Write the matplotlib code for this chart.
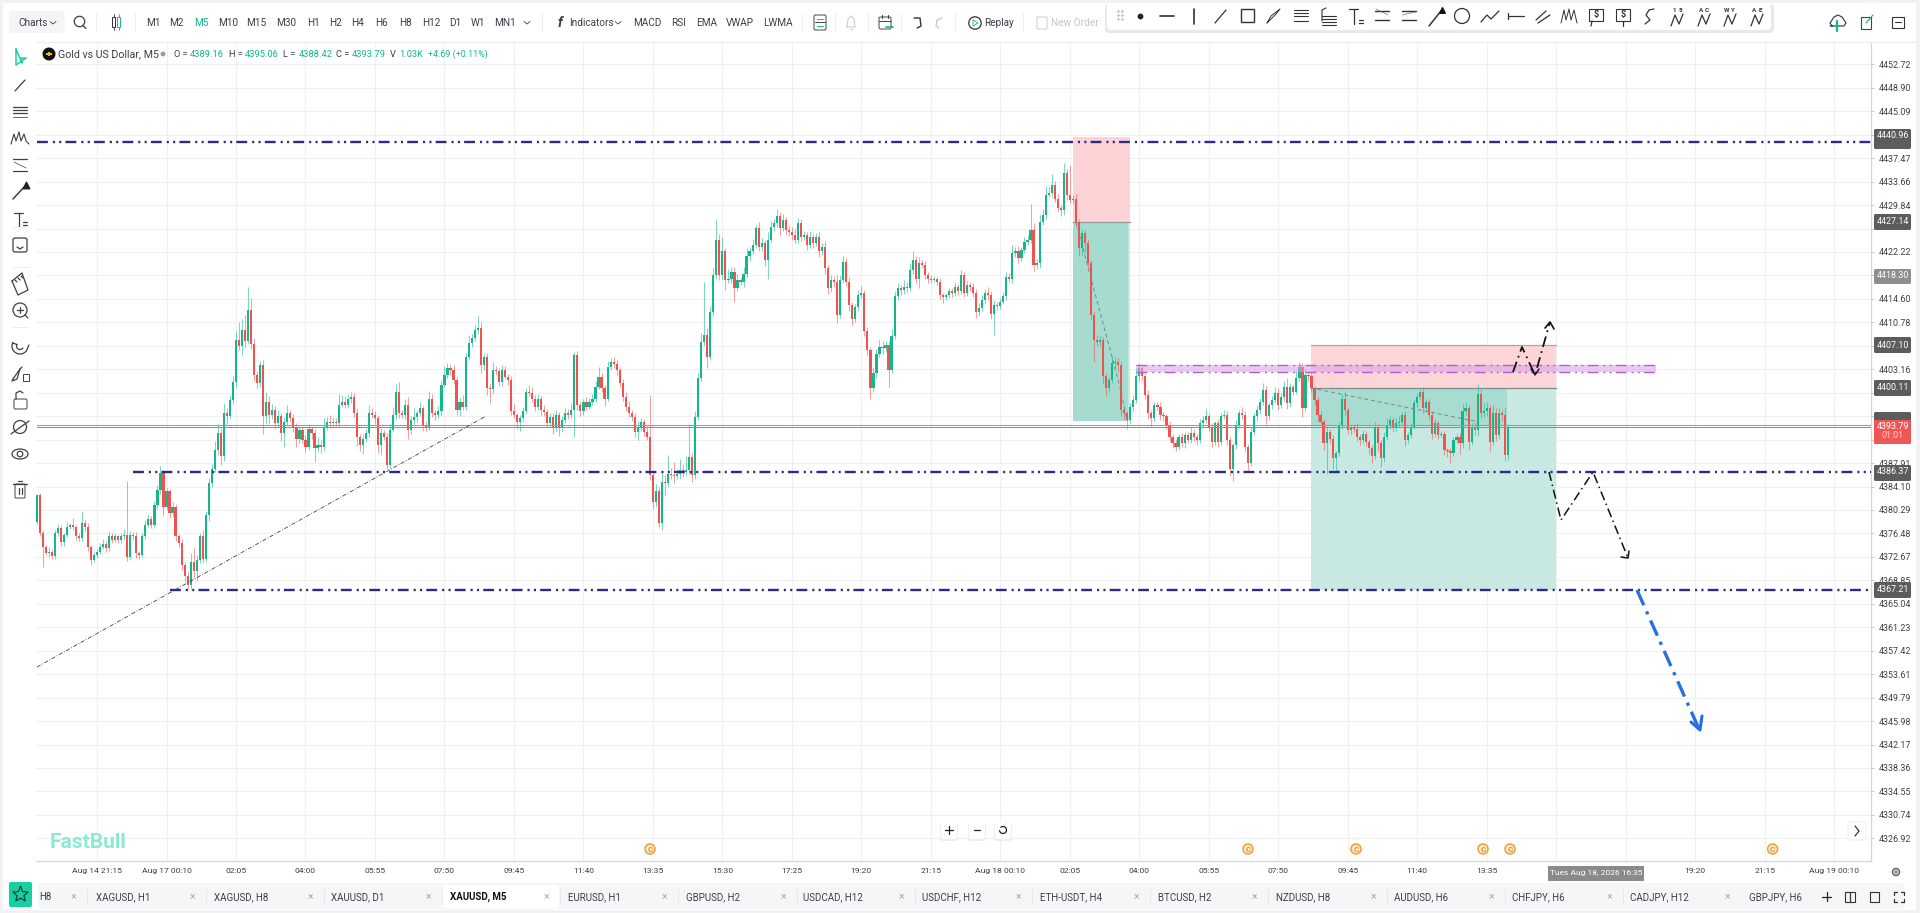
import numpy as np
import matplotlib
matplotlib.use("Agg")
import matplotlib.pyplot as plt
from matplotlib.patches import Rectangle, Circle, FancyBboxPatch, Ellipse

plt.rcParams['font.family'] = ['Roboto', 'DejaVu Sans']

GREEN = '#12b88a'
RED = '#ef5350'
NAVY = '#2b2a8c'
TXT = '#3a3f47'

# XAUUSD M5 closes, 20 per line
first_open = 4378.3
closes = [
    4382.7,4376.5,4374.3,4373.3,4373.5,4372.8,4376.5,4377.3,4375.1,4376.2,4377.6,4377.9,4377.5,4376.0,4375.7,4378.2,4377.6,4374.3,4372.2,4373.0,
    4373.5,4374.3,4374.8,4374.1,4376.1,4375.4,4376.0,4375.4,4376.0,4376.3,4372.7,4376.2,4376.0,4373.3,4373.0,4376.0,4377.9,4378.9,4377.9,4381.1,
    4383.5,4386.3,4380.8,4383.3,4379.8,4380.8,4376.0,4374.9,4371.4,4369.5,4368.1,4371.9,4370.3,4372.2,4376.0,4372.4,4379.5,4384.6,4387.0,4390.0,
    4392.8,4389.0,4396.0,4395.5,4398.2,4401.1,4407.9,4406.9,4409.5,4407.8,4412.8,4407.3,4402.2,4400.9,4403.9,4395.5,4397.9,4395.7,4396.5,4394.4,
    4395.5,4392.8,4394.6,4396.0,4395.2,4393.8,4391.9,4393.3,4391.7,4390.6,4393.4,4392.8,4390.3,4390.8,4390.6,4393.8,4394.6,4394.4,4394.6,4394.4,
    4397.4,4397.9,4397.4,4398.4,4398.7,4396.0,4392.2,4390.8,4391.9,4392.8,4396.0,4395.8,4395.2,4390.8,4392.8,4392.2,4387.6,4393.3,4395.7,4399.5,
    4396.0,4395.7,4397.4,4393.3,4394.9,4395.4,4396.0,4396.8,4394.1,4393.8,4398.4,4396.0,4395.7,4396.3,4400.6,4402.2,4403.3,4403.0,4401.4,4396.5,
    4397.9,4397.1,4405.2,4407.4,4408.2,4409.5,4409.8,4403.9,4405.2,4400.1,4399.9,4403.0,4402.8,4401.1,4403.0,4401.9,4401.4,4396.3,4395.7,4394.6,
    4395.2,4396.3,4399.5,4399.3,4398.4,4397.1,4398.4,4396.5,4396.2,4394.4,4395.4,4393.8,4395.7,4393.6,4394.9,4396.0,4395.7,4396.5,4405.5,4397.3,
    4396.3,4397.9,4397.1,4397.9,4398.4,4400.3,4401.9,4400.1,4398.4,4403.6,4404.4,4404.0,4403.0,4400.9,4398.7,4397.1,4396.0,4395.4,4393.0,4393.6,
    4394.6,4393.0,4392.2,4386.0,4381.6,4383.3,4378.1,4384.9,4384.7,4386.2,4386.0,4385.8,4386.2,4386.8,4386.5,4386.8,4388.9,4386.0,4395.4,4401.7,
    4407.6,4408.7,4405.2,4412.5,4418.5,4424.2,4418.5,4422.3,4417.7,4417.9,4419.0,4416.3,4417.7,4417.4,4418.7,4421.5,4422.3,4423.4,4426.1,4423.1,
    4423.6,4420.9,4424.2,4426.3,4426.9,4428.0,4426.1,4427.4,4425.8,4425.5,4425.0,4424.2,4426.9,4424.7,4425.0,4423.4,4424.7,4423.6,4424.7,4422.3,
    4423.1,4419.6,4416.3,4417.7,4417.4,4412.0,4417.7,4420.6,4417.4,4413.6,4411.4,4413.3,4415.2,4415.5,4409.3,4406.3,4400.1,4402.5,4405.7,4406.8,
    4406.6,4407.1,4403.0,4408.5,4415.0,4416.3,4416.0,4416.6,4416.4,4419.3,4420.9,4417.9,4420.4,4420.1,4418.5,4417.9,4417.7,4417.9,4417.4,4415.2,
    4414.9,4415.2,4415.8,4415.5,4416.6,4415.8,4418.5,4415.5,4416.9,4416.6,4415.5,4412.5,4413.1,4414.4,4415.5,4415.2,4412.2,4413.6,4413.4,4414.1,
    4415.0,4418.2,4417.9,4422.0,4422.3,4421.2,4422.5,4423.9,4424.2,4425.8,4420.1,4420.4,4427.1,4428.2,4431.5,4431.8,4433.1,4430.9,4429.3,4429.0,
    4435.0,4431.5,4430.7,4430.9,4427.1,4422.8,4425.3,4423.6,4420.4,4412.0,4407.9,4407.6,4407.9,4402.0,4400.1,4401.4,4404.1,4404.4,4403.8,4396.5,
    4396.0,4394.9,4397.1,4398.2,4402.0,4403.3,4402.0,4399.0,4396.0,4395.2,4397.4,4397.1,4395.7,4395.5,4394.1,4392.2,4391.1,4390.6,4392.2,4391.1,
    4392.5,4391.7,4392.8,4392.2,4391.7,4394.4,4394.9,4395.5,4393.8,4391.4,4394.4,4391.4,4395.5,4395.7,4391.7,4387.0,4390.8,4394.1,4396.0,4395.8,
    4390.6,4388.0,4393.0,4395.5,4396.5,4397.9,4399.8,4395.5,4397.4,4398.2,4399.3,4397.4,4398.7,4400.3,4397.6,4400.3,4399.5,4401.7,4403.6,4396.8,
    4402.2,4402.0,4400.1,4398.2,4395.7,4394.6,4391.1,4393.0,4391.9,4388.7,4389.5,4394.1,4398.4,4396.5,4393.3,4393.6,4393.5,4392.2,4391.7,4392.7,
    4391.4,4390.3,4389.0,4393.8,4391.1,4388.7,4392.2,4394.1,4394.9,4393.6,4394.4,4394.6,4395.7,4391.7,4392.5,4393.8,4397.6,4398.7,4399.5,4396.8,
    4397.9,4395.7,4392.7,4394.4,4392.5,4392.7,4390.0,4389.8,4389.5,4391.7,4392.2,4391.1,4396.3,4396.8,4391.4,4393.8,4393.3,4399.2,4396.0,4396.3,
    4396.8,4391.4,4396.0,4392.5,4396.0,4395.8,4389.2,4393.79,
]
wick_up = [
    0.2,0.3,0.6,0.3,0.8,0.4,0.6,0.7,0.5,0.4,0.8,0.3,1.1,0.4,0.5,1.9,0.6,0.5,0.3,0.5,
    0.4,0.6,0.7,0.5,0.8,0.4,0.6,0.3,0.5,0.9,8.7,0.6,0.5,0.7,0.4,0.5,0.8,0.6,0.4,0.7,
    0.9,1.2,0.5,0.6,0.4,0.8,0.5,0.4,0.6,0.5,0.9,1.4,2.2,0.8,0.5,1.0,0.6,0.9,0.7,1.5,
    1.4,0.8,1.6,0.9,0.8,0.9,1.4,3.0,1.8,2.5,3.8,2.0,0.9,0.7,0.6,0.8,1.5,0.9,1.0,0.7,
    1.1,0.5,0.8,1.3,0.5,0.7,0.6,0.6,0.5,0.7,0.9,0.4,0.6,1.3,0.9,1.4,0.8,1.2,0.6,0.7,
    1.8,1.1,0.9,0.8,0.7,0.6,0.8,0.5,0.7,0.6,1.3,0.9,0.5,0.6,0.8,0.5,0.6,0.9,1.4,1.2,
    1.6,0.6,0.9,1.2,0.7,1.5,0.5,1.0,0.4,0.6,1.3,0.8,0.6,0.9,0.7,1.5,0.8,0.7,0.9,0.5,
    0.8,1.1,0.6,1.3,0.7,0.8,2.0,1.0,0.5,0.6,0.9,1.3,0.7,0.6,0.8,0.7,0.5,0.6,1.2,0.4,
    0.5,0.7,0.6,1.1,0.9,0.5,0.7,0.4,0.8,0.5,0.6,0.7,0.9,0.5,0.6,0.9,0.7,1.2,0.4,0.7,
    0.6,0.5,0.7,0.6,0.8,1.0,1.6,0.7,0.5,0.9,0.6,0.8,0.7,0.5,0.6,0.8,0.9,0.5,0.7,1.2,
    0.6,0.5,1.0,6.8,0.6,1.2,0.7,1.4,1.1,3.0,0.9,2.1,0.7,1.8,1.0,2.2,5.4,0.6,1.0,0.8,
    1.4,8.7,1.2,0.9,1.1,3.3,1.0,2.3,0.6,1.5,0.8,0.7,0.9,0.5,1.1,1.3,0.8,0.9,0.5,1.0,
    0.9,0.6,1.2,0.9,0.6,1.2,0.7,1.0,0.5,0.6,0.8,0.9,0.8,0.6,0.7,0.5,0.9,0.5,0.6,0.7,
    0.6,0.9,0.5,0.7,0.6,1.0,0.8,0.9,0.6,0.7,0.5,0.4,0.8,1.2,0.6,0.7,0.5,1.1,0.8,1.1,
    0.9,0.6,0.7,1.2,0.8,0.9,0.6,1.1,0.7,1.2,1.4,0.6,1.0,0.5,0.7,0.5,0.6,0.4,0.3,0.6,
    0.4,0.3,0.6,0.5,0.7,0.4,0.8,0.5,0.6,0.4,0.5,0.7,0.9,0.8,0.7,1.0,0.6,0.8,0.5,0.6,
    0.7,0.8,0.6,1.4,0.7,0.9,0.6,0.8,0.7,4.2,1.2,0.7,1.1,1.0,1.4,0.9,1.8,0.6,0.8,0.5,
    1.6,0.7,4.9,0.6,0.8,0.5,0.6,0.5,0.7,0.5,0.6,0.9,0.7,0.5,0.6,0.5,1.2,0.7,0.6,0.5,
    0.6,0.4,0.5,0.8,1.4,0.9,0.5,0.4,0.8,0.6,0.4,0.5,0.7,0.5,0.4,0.6,0.5,0.7,0.5,0.6,
    0.5,0.4,0.9,0.6,0.5,0.7,0.6,1.2,0.5,0.6,0.4,0.7,0.5,0.9,0.6,0.5,0.4,0.8,0.6,1.0,
    0.6,0.4,0.7,0.5,0.8,0.6,1.1,0.7,0.5,0.6,1.0,0.8,0.6,0.9,1.4,0.7,0.5,1.1,0.8,0.6,
    1.0,0.5,0.6,0.4,0.5,0.6,0.4,1.0,0.5,0.6,0.4,0.5,0.8,1.3,0.6,0.5,0.7,0.9,0.4,0.6,
    0.5,0.4,0.6,0.8,0.4,0.5,0.7,1.1,0.6,0.5,0.8,0.9,0.5,0.6,0.4,0.7,0.8,0.6,0.4,0.7,
    0.5,0.4,0.6,0.7,0.3,0.5,0.4,0.3,0.6,0.5,0.4,0.6,1.2,0.9,0.5,0.7,0.6,1.6,0.8,1.4,
    1.0,0.6,1.3,0.8,0.9,0.6,1.1,0.4,
]
wick_dn = [
    0.3,0.5,3.2,0.4,0.6,0.5,0.4,0.5,0.6,0.7,0.3,0.4,0.5,0.6,0.4,0.5,0.7,0.6,0.8,0.4,
    0.5,0.3,0.4,0.6,0.5,0.4,0.3,0.5,0.4,0.6,0.7,0.5,0.6,0.8,0.6,0.4,0.5,0.4,0.6,0.5,
    0.7,0.6,1.4,0.5,0.8,0.6,0.7,0.6,0.9,0.8,0.7,0.6,1.0,1.5,0.6,0.8,0.5,1.0,0.5,0.6,
    0.8,1.4,0.7,1.3,0.5,0.7,0.9,0.6,1.4,1.1,0.6,0.9,1.0,0.8,0.7,2.8,1.2,1.4,0.7,1.0,
    0.6,1.3,2.2,0.5,0.6,0.8,1.4,0.7,0.6,0.9,0.5,1.0,2.2,0.6,1.1,0.7,0.5,0.8,0.6,0.5,
    0.7,0.4,0.6,0.5,0.7,0.6,1.5,0.9,1.4,0.6,0.7,0.5,0.9,1.2,1.5,0.6,0.7,0.5,0.4,0.6,
    0.8,0.5,0.7,1.4,0.6,0.7,0.8,0.5,1.0,0.7,0.5,0.6,0.8,0.5,0.6,0.4,0.5,0.7,0.6,0.8,
    1.0,0.6,0.5,0.4,0.7,0.5,0.6,1.3,0.8,1.2,2.2,0.6,0.5,0.7,0.6,0.4,0.8,0.6,0.5,1.2,
    1.4,0.6,0.4,0.5,0.6,0.7,0.5,1.0,0.6,0.7,0.5,1.2,0.6,1.3,0.7,0.5,0.6,0.4,4.3,0.7,
    0.8,0.5,0.6,0.4,0.5,0.6,0.4,0.7,1.2,0.4,0.5,0.6,0.7,0.6,0.7,0.8,0.6,0.7,0.9,1.4,
    0.5,0.7,0.6,0.9,1.2,0.8,0.5,1.0,2.0,0.7,0.6,1.2,0.5,0.8,0.9,0.6,0.7,1.2,0.6,0.5,
    0.4,0.6,1.8,0.5,0.7,0.6,0.8,0.9,1.6,0.6,0.7,2.2,0.5,0.6,0.8,0.5,0.7,0.4,0.6,0.7,
    0.8,0.9,3.1,0.5,0.6,0.7,1.2,0.4,0.8,0.7,0.9,0.6,0.5,0.7,0.6,0.8,0.5,0.7,0.4,0.9,
    0.6,1.0,0.9,0.6,0.8,1.4,0.5,0.6,0.7,1.0,1.1,0.5,0.6,0.4,0.7,0.9,1.7,0.6,0.7,0.5,
    1.0,0.6,2.7,0.4,0.5,0.6,0.7,0.6,0.9,0.5,0.6,0.8,1.5,0.5,0.6,0.7,0.5,0.4,0.6,0.7,
    0.9,0.5,0.4,0.6,0.5,0.6,0.4,0.6,0.5,0.7,0.6,1.0,0.7,0.5,0.6,0.8,0.9,3.5,0.6,0.5,
    0.4,0.6,0.5,0.7,0.6,0.8,0.5,0.4,0.6,0.5,0.9,0.7,0.8,0.5,0.6,0.4,0.7,0.6,0.5,0.9,
    0.7,0.8,0.6,0.7,0.9,1.3,1.0,1.6,0.7,0.8,3.5,0.6,0.7,1.2,1.3,0.6,0.5,0.8,1.1,1.0,
    0.9,1.4,0.6,0.7,0.5,0.8,0.6,0.7,0.9,1.2,0.5,0.6,0.8,0.7,0.6,0.9,0.7,0.8,0.5,0.6,
    0.7,0.5,0.6,0.7,0.8,0.5,0.6,0.4,0.7,0.9,0.5,0.8,0.6,0.5,0.9,1.2,2.0,0.6,0.5,0.7,
    0.9,1.4,0.6,0.5,0.7,0.6,0.5,1.3,0.6,0.7,0.5,0.8,0.6,0.7,0.9,0.5,0.6,0.4,0.5,1.4,
    0.5,0.7,0.6,0.8,0.9,0.7,1.1,4.9,0.8,1.8,2.0,0.5,0.6,0.9,0.7,0.8,0.6,0.7,0.8,0.6,
    0.7,0.9,1.0,0.5,1.2,1.5,0.6,0.5,0.7,0.6,0.5,0.7,0.4,1.0,0.6,0.5,0.4,0.6,0.5,0.7,
    0.5,0.6,0.8,0.5,0.7,0.4,0.8,0.9,1.6,0.5,0.6,1.7,0.7,0.6,1.4,0.5,0.9,1.0,0.8,0.6,
    0.7,1.5,0.6,1.0,0.7,1.1,1.0,0.8,
]

# price scale printed on the right
price_ticks = [4452.72,4448.90,4445.09,4441.28,4437.47,4433.66,4429.84,4426.03,4422.22,4418.41,4414.60,4410.78,
               4406.97,4403.16,4399.35,4395.54,4391.72,4387.91,4384.10,4380.29,4376.48,4372.67,4368.85,4365.04,
               4361.23,4357.42,4353.61,4349.79,4345.98,4342.17,4338.36,4334.55,4330.74,4326.92]
# these sit behind the value boxes in the platform
price_hidden = [4441.28,4426.03,4418.41,4406.97,4399.35,4395.54,4391.72]
time_labels = ['Aug 14 21:15','Aug 17 00:10','02:05','04:00','05:55','07:50','09:45','11:40','13:35','15:30','17:25',
               '19:20','21:15','Aug 18 00:10','02:05','04:00','05:55','07:50','09:45','11:40','13:35','','',
               '19:20','21:15','Aug 19 00:10']
first_tick_bar = 20
bars_per_tick = 23

# drawn levels
level_top = 4440.1
level_mid = 4386.4
level_low = 4367.3
level_price = 4393.9
band = (4402.7, 4403.85)

closes = np.array(closes)
opens = np.r_[first_open, closes[:-1]]
highs = np.maximum(opens, closes) + np.array(wick_up)
lows = np.minimum(opens, closes) - np.array(wick_dn)
x = np.arange(len(closes))

fig = plt.figure(figsize=(19.2, 9.13), dpi=100, facecolor='white')
W, H = 1920, 913
L, R, T, B = 36, 1870.7, 41.7, 861
ax = fig.add_axes([L / W, (H - B) / H, (R - L) / W, (B - T) / H])
ax.set_xlim(-0.2, 607.1)
ax.set_ylim(4323.24, 4456.39)

ax.set_xticks(first_tick_bar + bars_per_tick * np.arange(len(time_labels)), time_labels)
ax.yaxis.tick_right()
ax.set_yticks(price_ticks, ['' if p in price_hidden else f'{p:.2f}' for p in price_ticks])
ax.grid(True, color='#eef0f2', lw=0.8, zorder=0)
ax.set_axisbelow(True)
ax.tick_params(axis='x', length=0, pad=5, labelsize=6.1, labelcolor=TXT)
ax.tick_params(axis='y', length=2, pad=3.5, labelsize=6.4, labelcolor=TXT, color='#c8c8c8', width=0.7)
for s in ('top', 'left'):
    ax.spines[s].set_visible(False)
for s in ('bottom', 'right'):
    ax.spines[s].set_color('#d4d6d9')
    ax.spines[s].set_linewidth(0.9)

# position zones (under the candles)
def zone(x0, x1, p0, p1, color, **kw):
    ax.add_patch(Rectangle((x0, p0), x1 - x0, p1 - p0, facecolor=color, edgecolor='none', zorder=1, **kw))

zone(343.1, 362, 4427.1, 4440.9, '#fdd3d6')
zone(343.1, 361.1, 4394.8, 4427.1, '#a6dbd0')
zone(361.1, 362, 4394.8, 4427.1, '#c8e9e2')
zone(422, 503, 4400.1, 4407.1, '#fcd5d9')
zone(422, 503, 4367.3, 4400.1, '#c8e9e2')
zone(422, 486.8, 4394.0, 4400.1, '#a8dcd1')
ax.plot([343.1, 362], [4427.1, 4427.1], color='#8f9a98', lw=0.9, zorder=1.5)
ax.plot([422, 503], [4400.1, 4400.1], color='#7f8c8a', lw=0.9, zorder=1.5)
ax.plot([422, 503], [4407.1, 4407.1], color='#b5a0a3', lw=0.9, zorder=1.5)

# candles
up = closes >= opens
for mask, c in ((up, GREEN), (~up, RED)):
    ax.vlines(x[mask], lows[mask], highs[mask], color=c, lw=0.75, alpha=0.55, zorder=3)
    ax.bar(x[mask], np.maximum(np.abs(closes - opens)[mask], 0.18), bottom=np.minimum(opens, closes)[mask],
           width=0.72, color=c, linewidth=0, zorder=3.2)

# levels
ddd = (0, (4.6, 2.1, 0.9, 1.8, 0.9, 1.76))
ax.plot([0, 607.1], [level_top] * 2, color=NAVY, lw=1.7, ls=ddd, zorder=5)
ax.plot([32, 607.1], [level_mid] * 2, color=NAVY, lw=1.7, ls=ddd, zorder=5)
ax.plot([44, 607.1], [level_low] * 2, color=NAVY, lw=1.7, ls=ddd, zorder=5)
ax.plot([0, 607.1], [level_price + 0.13] * 2, color='#35c7a4', lw=0.7, zorder=5)
ax.plot([0, 607.1], [level_price - 0.13] * 2, color='#e8655f', lw=0.7, zorder=5.1)
ax.fill_between([364, 536], band[0], band[1], color='#d9a0e8', alpha=0.55, lw=0, zorder=4)
for p in band:
    ax.plot([364, 536], [p, p], color='#b45fcc', lw=1.0, ls=(0, (7.8, 3.5, 1.5, 3, 1.5, 3)), zorder=5)

# overlay in image pixels for the platform chrome and the hand-drawn lines
ui = fig.add_axes([0, 0, 1, 1], facecolor='none')
ui.set_xlim(0, W)
ui.set_ylim(H, 0)
ui.axis('off')

def pl(xs, ys, c=TXT, lw=0.9, **kw):
    ui.plot(xs, ys, color=c, lw=lw, solid_capstyle='round', **kw)

def box(x0, y0, x1, y1, fc, ec='none', z=2, round_=0):
    if round_:
        ui.add_patch(FancyBboxPatch((x0, y0), x1 - x0, y1 - y0, boxstyle=f'round,pad=0,rounding_size={round_}',
                                    fc=fc, ec=ec, lw=0.7, zorder=z))
    else:
        ui.add_patch(Rectangle((x0, y0), x1 - x0, y1 - y0, fc=fc, ec=ec, lw=0.7, zorder=z))

def t(x, y, s, c=TXT, size=7.2, ha='left', **kw):
    ui.text(x, y, s, color=c, fontsize=size, ha=ha, va='center', zorder=kw.pop('zorder', 8), **kw)

# outer frame
box(0, 0, 3, H, '#f1f2f3')
box(0, 0, W, 3, '#f1f2f3')
box(1916, 0, W, H, '#f1f2f3')
box(0, 910, W, H, '#f1f2f3')

# hand-drawn trend line and projected paths
ddot = (0, (6, 2.5, 1, 2.5))
pl([37, 486], [667, 416], c='#444444', lw=0.6, ls=(0, (5, 2, 1, 2)))
pl([1076, 1120, 1127], [222, 387, 420], c='#7a8a88', lw=0.7, ls=(0, (4, 3)))
pl([1311, 1479], [388, 422], c='#7a8a88', lw=0.7, ls=(0, (4, 3)))
pl([1513, 1522, 1535, 1550], [372, 347, 375, 322], c='#111111', lw=1.3, ls=ddot)
pl([1545, 1550, 1554], [328, 322, 329], c='#111111', lw=1.2)
pl([1531, 1535, 1539], [369, 375, 369], c='#111111', lw=1.0)
pl([1549, 1561, 1593, 1628], [472, 520, 472, 558], c='#111111', lw=1.1, ls=ddot)
pl([1621, 1628, 1629], [557, 558, 551], c='#111111', lw=1.1)
pl([1637, 1699], [590, 729], c='#2a6fe0', lw=2.4, ls=(0, (5, 2, 1, 2)))
pl([1691, 1700, 1702], [722, 730, 716], c='#2a6fe0', lw=2.2)

# value boxes on the price axis
for y0, y1, s, fc, ty in ((129, 149, '4440.96', '#5c5c5c', 136), (214, 230, '4427.14', '#5c5c5c', 222),
                          (269, 284, '4418.30', '#8e8e8e', 276), (337, 353, '4407.10', '#5c5c5c', 345),
                          (380, 396, '4400.11', '#5c5c5c', 388), (465, 481, '4386.37', '#5c5c5c', 472),
                          (582, 598, '4367.21', '#5c5c5c', 590)):
    box(1874, y0, 1911, y1, fc, z=6, round_=1.5)
    t(1892.5, ty, s, c='white', ha='center', size=6.4)
box(1874, 412, 1911, 424, '#5c5c5c', z=6, round_=1.5)
box(1874, 420, 1911, 444, '#f25555', z=7, round_=1.5)
t(1892.5, 426.5, '4393.79', c='white', ha='center', size=6.4)
t(1892.5, 436, '01:01', c='#ffd9d9', ha='center', size=6.4)

# header
box(3, 3, 1916, 41, 'white')
pl([3, 1916], [41.7, 41.7], c='#eceef0', lw=0.8)
box(9, 11, 64.5, 33, '#f4f5f6', round_=3)
t(18, 22.5, 'Charts')
pl([50, 53, 56], [21.5, 24, 21.5], lw=0.6)
ui.add_patch(Circle((79.5, 21.5), 5.2, fc='none', ec=TXT, lw=0.9, zorder=3))
pl([83, 86], [25.5, 28.5], lw=0.9)
for sx in (96, 135, 542, 802, 835, 868, 901, 955, 1023):
    pl([sx, sx], [13, 31], c='#eceef0', lw=0.7)
box(112, 17, 115, 27, 'white', ec='#333333', z=3)
box(117, 17, 120, 27, 'white', ec=GREEN, z=3)
pl([113.5, 113.5], [14, 30], c='#333333', lw=0.6)
pl([118.5, 118.5], [14, 30], c=GREEN, lw=0.6)
for xc, s in ((153, 'M1'), (176, 'M2'), (201, 'M5'), (228, 'M10'), (256, 'M15'), (286, 'M30'), (313, 'H1'),
              (335, 'H2'), (358, 'H4'), (382, 'H6'), (405, 'H8'), (431, 'H12'), (455, 'D1'), (478, 'W1'), (505, 'MN1')):
    t(xc, 23, s, ha='center', c=GREEN if s == 'M5' else TXT)
pl([524, 527, 530], [21.5, 24, 21.5], lw=0.6)
t(560, 23, 'f', ha='center', size=10, style='italic', weight='bold')
t(569, 23, 'Indicators')
pl([615, 618, 621], [21.5, 24, 21.5], lw=0.6)
for xc, s in ((647, 'MACD'), (679, 'RSI'), (706.5, 'EMA'), (740, 'VWAP'), (778, 'LWMA')):
    t(xc, 23, s, ha='center')
# layout, alert and calendar buttons
box(814, 15, 826, 30, 'white', ec='#444444', z=3, round_=1.5)
pl([815, 825], [22.5, 22.5], c='#444444', lw=0.7, zorder=4)
pl([817, 823], [19, 19], c=GREEN, lw=0.7, zorder=4)
pl([817, 823], [26, 26], c=GREEN, lw=0.7, zorder=4)
pl([847, 848, 851, 854, 855, 847], [27, 19, 16, 19, 27, 27], c='#cfd2d5', lw=0.9, zorder=4)
pl([850, 852], [29, 29], c='#cfd2d5', lw=0.9, zorder=4)
box(879, 17, 891, 29, 'white', ec='#444444', z=3, round_=1.5)
pl([879, 891], [21, 21], c='#444444', lw=0.7, zorder=4)
pl([882, 882], [15, 18], c='#444444', lw=0.8, zorder=4)
pl([888, 888], [15, 18], c='#444444', lw=0.8, zorder=4)
pl([886, 893], [27, 27], c=GREEN, lw=1.2, zorder=4)
pl([914, 920, 921, 917], [18, 18, 26, 28], c='#333333', lw=1.0, zorder=4)
pl([942, 937, 936, 939], [18, 20, 26, 28], c='#c9cccf', lw=1.0, zorder=4)
ui.add_patch(Circle((975, 23), 6.2, fc='none', ec='#333333', lw=0.9, zorder=4))
pl([973, 978, 973, 973], [20, 23, 26, 20], c=GREEN, lw=0.6, zorder=4)
t(984, 23, 'Replay')
box(1037, 17, 1047, 29, 'white', ec='#c9cccf', z=3, round_=1)
t(1051, 23, 'New Order', c='#c3c6c9')

# floating drawing bar
box(1105, 4, 1774, 33, '#e9e9e9', z=3, round_=4)
box(1107, 3, 1771, 30, 'white', z=4, round_=4)
def ik(xs, ys, lw=0.9, c='#2f3237'):
    ui.plot(xs, ys, color=c, lw=lw, zorder=5, solid_capstyle='round')
ui.scatter([1118, 1122] * 3, [11, 11, 15, 15, 19, 19], s=0.6, c='#b9bcc0', zorder=5)
ui.scatter([1140], [16], s=10, c='#222222', zorder=5)
ik([1160, 1174], [16, 16], lw=1.2)
ik([1194, 1194], [9, 24], lw=1.2)
ik([1215, 1226], [23, 10])
ui.add_patch(Rectangle((1241, 9), 13, 13, fc='none', ec='#2f3237', lw=1.0, zorder=5))
ik([1267, 1271, 1280, 1276, 1267], [23, 16, 9, 14, 23], lw=0.7)
for yy in (10, 13, 16, 21):
    ik([1294, 1308], [yy, yy], lw=0.8)
ik([1322, 1322, 1326], [21, 10, 8], lw=0.8)
for yy in (16, 19, 22, 25):
    ik([1322, 1336], [yy, yy], lw=0.8)
ik([1349, 1358], [9, 9]); ik([1353.5, 1353.5], [9, 24]); ik([1359, 1363], [20, 20]); ik([1359, 1363], [23, 23])
for base in (1382, 1408.6):
    for yy in (11, 20):
        ik([base - 7, base + 7], [yy, yy], lw=1.0)
    ik([base - 6, base + 6], [9 + (base > 1400) * 6, 15 - (base > 1400) * 3], lw=0.5, c='#777777')
ik([1429, 1441], [26, 11], lw=1.1)
ui.scatter([1442], [10], marker='^', s=16, c='#111111', zorder=5)
ui.add_patch(Circle((1462, 16), 7.5, fc='none', ec='#2f3237', lw=0.9, zorder=5))
ik([1481, 1487, 1491, 1499], [22, 15, 19, 11])
ik([1508, 1524], [16, 16]); ik([1508, 1508], [13, 19])
ik([1536, 1546], [20, 11]); ik([1538, 1550], [23, 15])
ik([1561, 1564, 1566, 1569, 1571, 1574, 1577], [23, 10, 20, 9, 20, 10, 23], lw=0.7)
for cx, stem in ((1596, False), (1623, True)):
    ui.add_patch(Rectangle((cx - 7, 9), 14, 12, fc='none', ec='#2f3237', lw=0.8, zorder=5))
    ui.text(cx, 15, '$', fontsize=6.5, ha='center', va='center', weight='bold', zorder=5, color='#2f3237')
    ik([cx, cx] if stem else [cx - 4, cx - 5], [21, 26])
ik([1654, 1649, 1646, 1650, 1645], [9, 10, 15, 20, 24])
for cx, a, b in ((1677, '1', '5'), (1704, 'A', 'C'), (1730, 'W', 'Y'), (1757, 'A', 'E')):
    ik([cx - 6, cx - 2, cx + 2, cx + 6], [26, 15, 24, 14])
    ui.text(cx - 3, 10, a, fontsize=4.5, ha='center', va='center', weight='bold', zorder=5, color='#2f3237')
    ui.text(cx + 3, 10, b, fontsize=4.5, ha='center', va='center', weight='bold', zorder=5, color='#2f3237')

# top right icons
pl([1832, 1830, 1832, 1834, 1838, 1842, 1844, 1846, 1844, 1830], [26, 23, 20, 17, 15, 17, 20, 23, 26, 26], c='#444444', lw=0.9, zorder=5)
pl([1837, 1837], [21, 31], c=GREEN, lw=1.6, zorder=6)
ui.add_patch(Rectangle((1861, 17), 10, 12, fc='none', ec='#444444', lw=0.8, zorder=5))
pl([1866, 1873], [23, 15], c=GREEN, lw=0.9, zorder=6)
ui.add_patch(Rectangle((1892, 17), 12, 11, fc='none', ec='#333333', lw=0.8, zorder=5))
pl([1895, 1901], [22.5, 22.5], c='#333333', lw=0.8, zorder=5)

# left tool rail
box(3, 41, 36, 862, 'white')
def li(xs, ys, c='#3d4046', lw=0.9):
    ui.plot(xs, ys, color=c, lw=lw, zorder=5, solid_capstyle='round', solid_joinstyle='round')
li([16, 16, 26, 21, 22, 16], [49, 65, 58, 58, 63, 49], c='#21cfa6', lw=1.1)
li([15, 25], [91, 80])
for yy in (107, 110, 113):
    li([13, 27], [yy, yy], lw=0.9)
li([13, 27], [117, 117], lw=0.7, c='#666666')
li([11, 14, 16, 19, 21, 24, 26, 29], [144, 134, 141, 132, 141, 134, 141, 144], lw=0.8)
li([13, 27], [159, 159]); li([13, 27], [171, 171]); li([14, 26], [162, 168], lw=0.5)
li([13, 25], [199, 186], lw=1.1)
ui.scatter([26], [185], marker='^', s=22, c='#222222', zorder=5)
li([14, 23], [213, 213]); li([18.5, 18.5], [213, 226]); li([23, 27], [222, 222]); li([23, 27], [225, 225])
ui.add_patch(FancyBboxPatch((13, 238), 14, 14, boxstyle='round,pad=0,rounding_size=2', fc='none', ec='#3d4046', lw=0.9, zorder=5))
li([17, 20, 23], [247, 249, 247], c='#3d4046')
li([12, 22, 28, 18, 12], [281, 273, 290, 295, 281])
li([15, 17], [280, 282]); li([18, 20], [278, 280]); li([21, 23], [276, 278])
ui.add_patch(Circle((20, 310), 7, fc='none', ec='#3d4046', lw=0.9, zorder=5))
li([17, 23], [310, 310]); li([20, 20], [307, 313]); li([25, 28], [315, 318])
# magnet
mag_a = np.linspace(0.6, 3.6, 30)
li(20 + 8 * np.cos(mag_a), 346 + 8 * np.sin(mag_a))
li(20 + 3.5 * np.cos(mag_a), 346 + 3.5 * np.sin(mag_a))
li([26.5, 29], [350.5, 345]); li([12.5, 17], [343, 344.5])
li([13, 20, 22], [379, 369, 367]); li([13, 12, 17, 20], [379, 381, 379, 369])
box(23, 374, 29, 381, 'white', ec='#3d4046', z=5)
box(14, 399, 27, 409, 'white', ec='#3d4046', z=5, round_=1.5)
li([16, 16, 20, 23], [399, 393, 391, 393])
ui.add_patch(Circle((20, 427), 6.5, fc='none', ec='#3d4046', lw=0.9, zorder=5))
li([11, 29], [434, 421])
ui.add_patch(Ellipse((20, 454), 16, 10, fc='none', ec='#3d4046', lw=0.9, zorder=5))
ui.add_patch(Circle((20, 454), 2.8, fc='none', ec='#3d4046', lw=0.9, zorder=5))
box(15, 484, 25, 498, 'white', ec='#3d4046', z=5, round_=1)
li([13, 27], [484, 484]); li([18, 22], [481, 481]); li([18.5, 18.5], [488, 494]); li([21.5, 21.5], [488, 494])
for sy in (227, 267, 327):
    li([12, 28], [sy, sy], c='#eceef0', lw=0.7)

# legend row
ui.add_patch(Circle((49, 54), 6.5, fc='#111111', ec='none', zorder=6))
ui.scatter([47, 49, 51], [54, 54, 54], s=[2, 5, 2], c='#e8b339', zorder=7, marker='|')
t(58, 54.5, 'Gold vs US Dollar, M5', size=7.7)
ui.add_patch(Circle((163, 54), 2.4, fc='#9a9a9a', ec='none', zorder=6))
for xs, label, val in ((174, 'O =', '4389.16'), (229, 'H =', '4395.06'), (283, 'L =', '4388.42'), (335.5, 'C =', '4393.79')):
    t(xs, 54.5, label, size=6.7)
    t(xs + 16, 54.5, val, c=GREEN, size=6.7)
t(390, 54.5, 'V', size=6.7)
t(399, 54.5, '1.03K', c=GREEN, size=6.7)
t(428.5, 54.5, '+4.69 (+0.11%)', c=GREEN, size=6.4)

# zoom buttons and markers on the time strip
for xc in (949, 977, 1003):
    box(xc - 9, 823, xc + 9, 841, '#eeeeee', z=5, round_=2.5)
    box(xc - 8, 822, xc + 8, 839, 'white', z=6, round_=2.5)
pl([945, 953], [830, 830], c='#222222', zorder=7)
pl([949, 949], [826, 834], c='#222222', zorder=7)
pl([974, 980], [830, 830], c='#222222', zorder=7)
ui.plot(1003 + 3.5 * np.cos(np.linspace(-2.2, 2.9, 30)), 830 + 3.5 * np.sin(np.linspace(-2.2, 2.9, 30)), c='#222222', lw=0.9, zorder=7)
box(1848, 822, 1866, 840, 'white', ec='#eeeeee', z=6, round_=2.5)
pl([1855, 1859, 1855], [826, 831, 836], c='#333333', zorder=7)
for xc in (650, 1248, 1356, 1483, 1510, 1772.6):
    ui.add_patch(Circle((xc, 849), 5, fc='#fbe9c9', ec='#f0a030', lw=1.1, zorder=6))
    t(xc, 849, 'C', c='#e8932a', ha='center', size=5.8, weight='bold')
t(50, 843, 'FastBull', c='#8ce8d4', size=15, weight='bold')

# crosshair stamp and gear
box(1548, 866, 1644, 881, '#8a8a8a', z=6)
t(1596, 873, 'Tues Aug 18, 2026 16:35', c='white', ha='center', size=6)
ui.add_patch(Circle((1896, 872), 3.5, fc='none', ec='#555555', lw=1.0, zorder=6))
ui.add_patch(Circle((1896, 872), 1.2, fc='none', ec='#555555', lw=0.7, zorder=6))

# tab strip
box(38, 883, 1905, 909, '#f5f6f7', z=3, round_=3)
box(9, 882, 32, 907, '#16cfa3', z=4, round_=2)
star_a = np.linspace(-np.pi / 2, 1.5 * np.pi, 11)
star_r = np.where(np.arange(11) % 2 == 0, 8, 3.6)
ui.plot(20.5 + star_r * np.cos(star_a), 894.5 + star_r * np.sin(star_a), c='#0b3b30', lw=0.8, zorder=5)
box(442, 885, 559, 908, 'white', z=4, round_=3)
tab_names = ['H8', 'XAGUSD, H1', 'XAGUSD, H8', 'XAUUSD, D1', 'XAUUSD, M5', 'EURUSD, H1', 'GBPUSD, H2', 'USDCAD, H12',
             'USDCHF, H12', 'ETH-USDT, H4', 'BTCUSD, H2', 'NZDUSD, H8', 'AUDUSD, H6', 'CHFJPY, H6', 'CADJPY, H12', 'GBPJPY, H6']
tab_x = [39, 95.5, 214, 331, 449.5, 568, 686, 803, 922, 1039.6, 1158, 1276, 1394, 1512, 1630.5, 1749]
close_x = [73.5, 192, 310, 428, 546, 664, 783, 901, 1018, 1136, 1254.5, 1373, 1491, 1609, 1727]
for xs, s in zip(tab_x, tab_names):
    t(xs, 897, s, size=7, c='#111111' if s == 'XAUUSD, M5' else TXT, weight='bold' if s == 'XAUUSD, M5' else 'normal')
for xs in close_x:
    t(xs, 897, '×', size=7.5, c='#a5a8ab', ha='center')
    if xs < 1700:
        pl([xs + 13.5, xs + 13.5], [889, 904], c='#e4e6e8', lw=0.6, zorder=5)
pl([1822, 1831], [897, 897], c='#222222', zorder=5)
pl([1826.5, 1826.5], [892.5, 901.5], c='#222222', zorder=5)
for cx, w_ in ((1850, 5), (1874, 4.5)):
    ui.add_patch(Rectangle((cx - w_, 892), 2 * w_, 10, fc='none', ec='#333333', lw=0.8, zorder=5))
pl([1850, 1850], [892, 902], c='#333333', zorder=5)
for sx, sy in ((-1, -1), (1, -1), (-1, 1), (1, 1)):
    pl([1899 + sx * 5, 1899 + sx * 5, 1899 + sx * 2], [897 + sy * 2, 897 + sy * 5, 897 + sy * 5], c='#333333', zorder=5)

fig.savefig('out.png', dpi=100)
